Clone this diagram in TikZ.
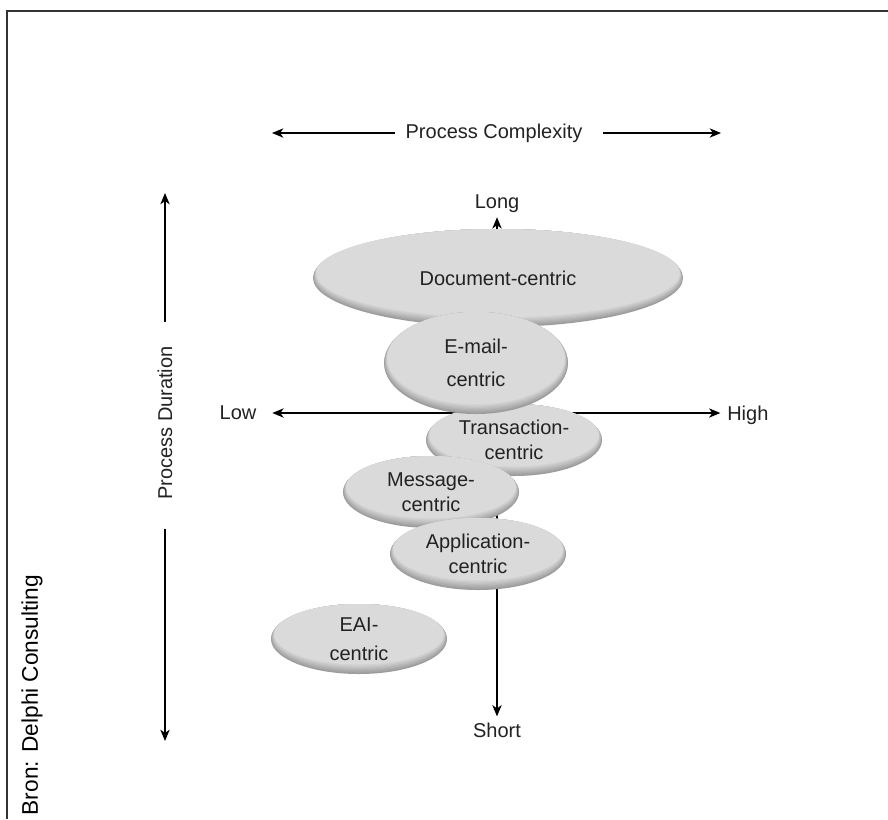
\documentclass[tikz,border=0pt]{standalone}
\usepackage{fontspec}
\setmainfont{Liberation Sans}
\usetikzlibrary{arrows.meta,shapes.geometric}
\definecolor{face}{HTML}{DADADA}
\definecolor{rimdark}{HTML}{9C9C9C}
\definecolor{txtc}{HTML}{222222}
\newcommand\blob[6]{%
  \foreach \k in {0,...,8}{%
    \pgfmathtruncatemacro\mixpct{\k*12.5}%
    \fill[face!\mixpct!rimdark] (#2,#3-\k*0.6) ellipse [x radius=#4-\k*0.4, y radius=#5-\k*0.6];
  }%
  \node[lbl] (#1) at (#2,#3) {#6};%
}
\begin{document}
\begin{tikzpicture}[x=0.75pt,y=-0.75pt,
  lbl/.style={font=\fontsize{15}{18.5}\selectfont, text=txtc, inner sep=0pt, align=center},
  arr/.style={line width=1pt, -{Stealth[length=8.5pt,width=7pt,inset=2.5pt]}},
  arrs/.style={line width=1pt, {Stealth[length=8.5pt,width=7pt,inset=2.5pt]}-{Stealth[length=8.5pt,width=7pt,inset=2.5pt]}},
  frameline/.style={line width=1pt, draw=black!80}]

\useasboundingbox (0,0) rectangle (888,819);
\fill[white] (0,0) rectangle (888,819);
\draw[frameline] (888,11) -- (7,11) -- (7,819);

% Source note
\node[font=\fontsize{17}{20}\selectfont, text=black, rotate=90, inner sep=0pt] (bron) at (32,695) {Bron: Delphi Consulting};

% Process Complexity axis
\node[lbl] (pc) at (494,133) {Process Complexity};
\coordinate (pcl) at (272,133);
\coordinate (pcr) at (721,133);
\draw[arr, shorten <=8pt] (pc.west) -- (pcl);
\draw[arr, shorten <=15.5pt] (pc.east) -- (pcr);

% Process Duration axis
\node[lbl, rotate=90] (pd) at (165,423) {Process Duration};
\coordinate (pdt) at (165,193);
\coordinate (pdb) at (165,741);
\draw[arr, shorten <=18.4pt] (pd.east) -- (pdt);
\draw[arr, shorten <=21.4pt] (pd.west) -- (pdb);

% Central axes
\node[lbl] (long) at (497,204) {Long};
\node[lbl] (short) at (497,730) {Short};
\node[lbl] (low) at (238,413) {Low};
\node[lbl, anchor=base west] (high) at (727,420) {High};
\draw[arrs, shorten <=3pt, shorten >=4.5pt] (long.south) -- (short.north);
\draw[arrs, shorten <=11.8pt, shorten >=5pt] (low.east) -- (low.east -| high.west);

% Ellipses
\blob{doc}{498}{278}{185}{49}{Document-centric}
\blob{trans}{514}{440}{88}{36}{Transaction-\\centric}
\blob{email}{476}{363}{92}{51}{E-mail-\\[6pt]centric}
\blob{msg}{431}{492}{88}{36}{Message-\\centric}
\blob{app}{478}{554}{88}{36}{Application-\\centric}
\blob{eai}{359}{639}{88}{35}{EAI-\\[3pt]centric}
\end{tikzpicture}
\end{document}
